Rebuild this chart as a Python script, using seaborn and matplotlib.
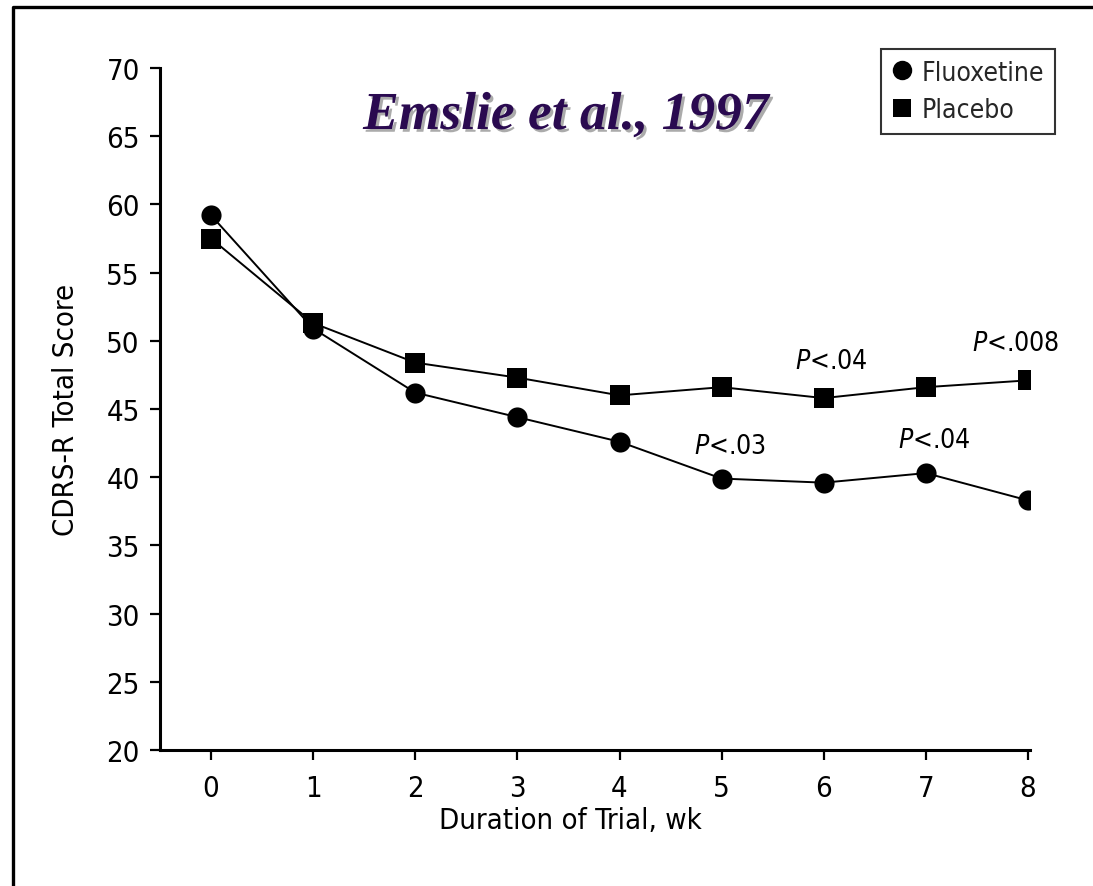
import matplotlib
matplotlib.use("Agg")
import matplotlib.pyplot as plt
import matplotlib.patheffects as pe
from matplotlib import font_manager
from matplotlib.lines import Line2D
import pandas as pd
import seaborn as sns

# Weekly mean CDRS-R total scores
weeks = [0, 1, 2, 3, 4, 5, 6, 7, 8]
fluoxetine = [59.2, 50.9, 46.2, 44.4, 42.6, 39.9, 39.6, 40.3, 38.3]
placebo = [57.5, 51.3, 48.4, 47.3, 46.0, 46.6, 45.8, 46.6, 47.1]
groups = ["Fluoxetine", "Placebo"]
y_ticks = [20, 25, 30, 35, 40, 45, 50, 55, 60, 65, 70]

# Significance notes: (week, group, p-value text)
p_notes = [(5, "Fluoxetine", "<.03"), (6, "Placebo", "<.04"),
           (7, "Fluoxetine", "<.04"), (8, "Placebo", "<.008")]

sns.set_theme(style="white")

# Prefer a condensed sans face for the axis text
condensed = [f for f in font_manager.fontManager.ttflist
             if f.stretch in ("condensed", "semi-condensed", 87.5, 75)
             or "Narrow" in f.name or "Condensed" in f.name]
sans, stretch = "DejaVu Sans", "normal"
for f in condensed:
    if f.style == "normal" and f.weight in (400, "normal", "regular"):
        sans, stretch = f.name, f.stretch
        break
plt.rcParams["font.family"] = [sans, "DejaVu Sans"]
plt.rcParams["font.stretch"] = stretch
plt.rcParams["mathtext.fontset"] = "custom"
plt.rcParams["mathtext.rm"] = sans
plt.rcParams["mathtext.it"] = sans + ":italic"

fs = 21 if stretch != "normal" or "Narrow" in sans else 19
fs_small = fs - 2

df = pd.DataFrame({
    "week": weeks * 2,
    "score": fluoxetine + placebo,
    "group": [groups[0]] * len(weeks) + [groups[1]] * len(weeks),
})

fig = plt.figure(figsize=(10.93, 8.87), dpi=100)
ax = fig.add_axes([160 / 1093, 1 - 751 / 887, 870 / 1093, 682 / 887])

sns.lineplot(data=df, x="week", y="score", hue="group", style="group",
             palette={"Fluoxetine": "black", "Placebo": "black"},
             markers={"Fluoxetine": "o", "Placebo": "s"}, dashes=False,
             markersize=14.5, linewidth=1.4, markeredgewidth=0,
             legend=False, ax=ax)

ax.set_xlim(-0.5, 8.02)
ax.set_ylim(20, 70)
ax.set_xticks(weeks)
ax.set_yticks(y_ticks)
ax.tick_params(axis="both", labelsize=fs, colors="black", direction="out",
               length=7.5, width=1.6)
ax.tick_params(axis="x", pad=10)
ax.tick_params(axis="y", pad=7)
ax.tick_params(left=True, bottom=True)

for side in ["top", "right"]:
    ax.spines[side].set_visible(False)
for side in ["left", "bottom"]:
    ax.spines[side].set_color("black")
    ax.spines[side].set_linewidth(2.2)

ax.set_xlabel("Duration of Trial, wk", fontsize=fs, color="black")
ax.set_ylabel("CDRS-R Total Score", fontsize=fs, color="black")
ax.xaxis.set_label_coords(0.472, -0.082)
ax.yaxis.set_label_coords(-0.092, 0.5)

# Significance annotations above the points
series = {"Fluoxetine": fluoxetine, "Placebo": placebo}
for wk, grp, txt in p_notes:
    y = series[grp][weeks.index(wk)]
    dx = -12 if wk == 8 else 8
    dy = 24 if grp == "Placebo" else 20
    ax.annotate(r"$\it{P}$" + txt, xy=(wk, y), xytext=(dx, dy),
                textcoords="offset pixels", ha="center", va="bottom",
                fontsize=fs_small, color="black")

# Legend
handles = [Line2D([], [], marker="o", color="black", linestyle="none",
                  markersize=14, markeredgewidth=0),
           Line2D([], [], marker="s", color="black", linestyle="none",
                  markersize=13, markeredgewidth=0)]
leg = fig.legend(handles, groups, loc="upper right",
                 bbox_to_anchor=(1055 / 1093, 1 - 50 / 887),
                 frameon=True, fancybox=False, fontsize=fs_small,
                 handlelength=0.8, handletextpad=0.35, borderpad=0.4,
                 labelspacing=0.45, borderaxespad=0)
leg.get_frame().set_edgecolor("black")
leg.get_frame().set_linewidth(1.5)

# Study citation
fig.text(566 / 1093, 1 - 130 / 887, "Emslie et al., 1997",
         family="Liberation Serif", style="italic", weight="bold",
         stretch="normal", fontsize=38.5, color="#2a0a50",
         ha="center", va="baseline",
         path_effects=[pe.withSimplePatchShadow(offset=(2, -2),
                                                shadow_rgbFace="#888888",
                                                alpha=0.7)])

# Slide frame
fig.add_artist(Line2D([13 / 1093, 13 / 1093, 1.0], [0.0, 1 - 8 / 887, 1 - 8 / 887],
                      transform=fig.transFigure, color="black", linewidth=2.4))

fig.savefig("out.png", dpi=100)
